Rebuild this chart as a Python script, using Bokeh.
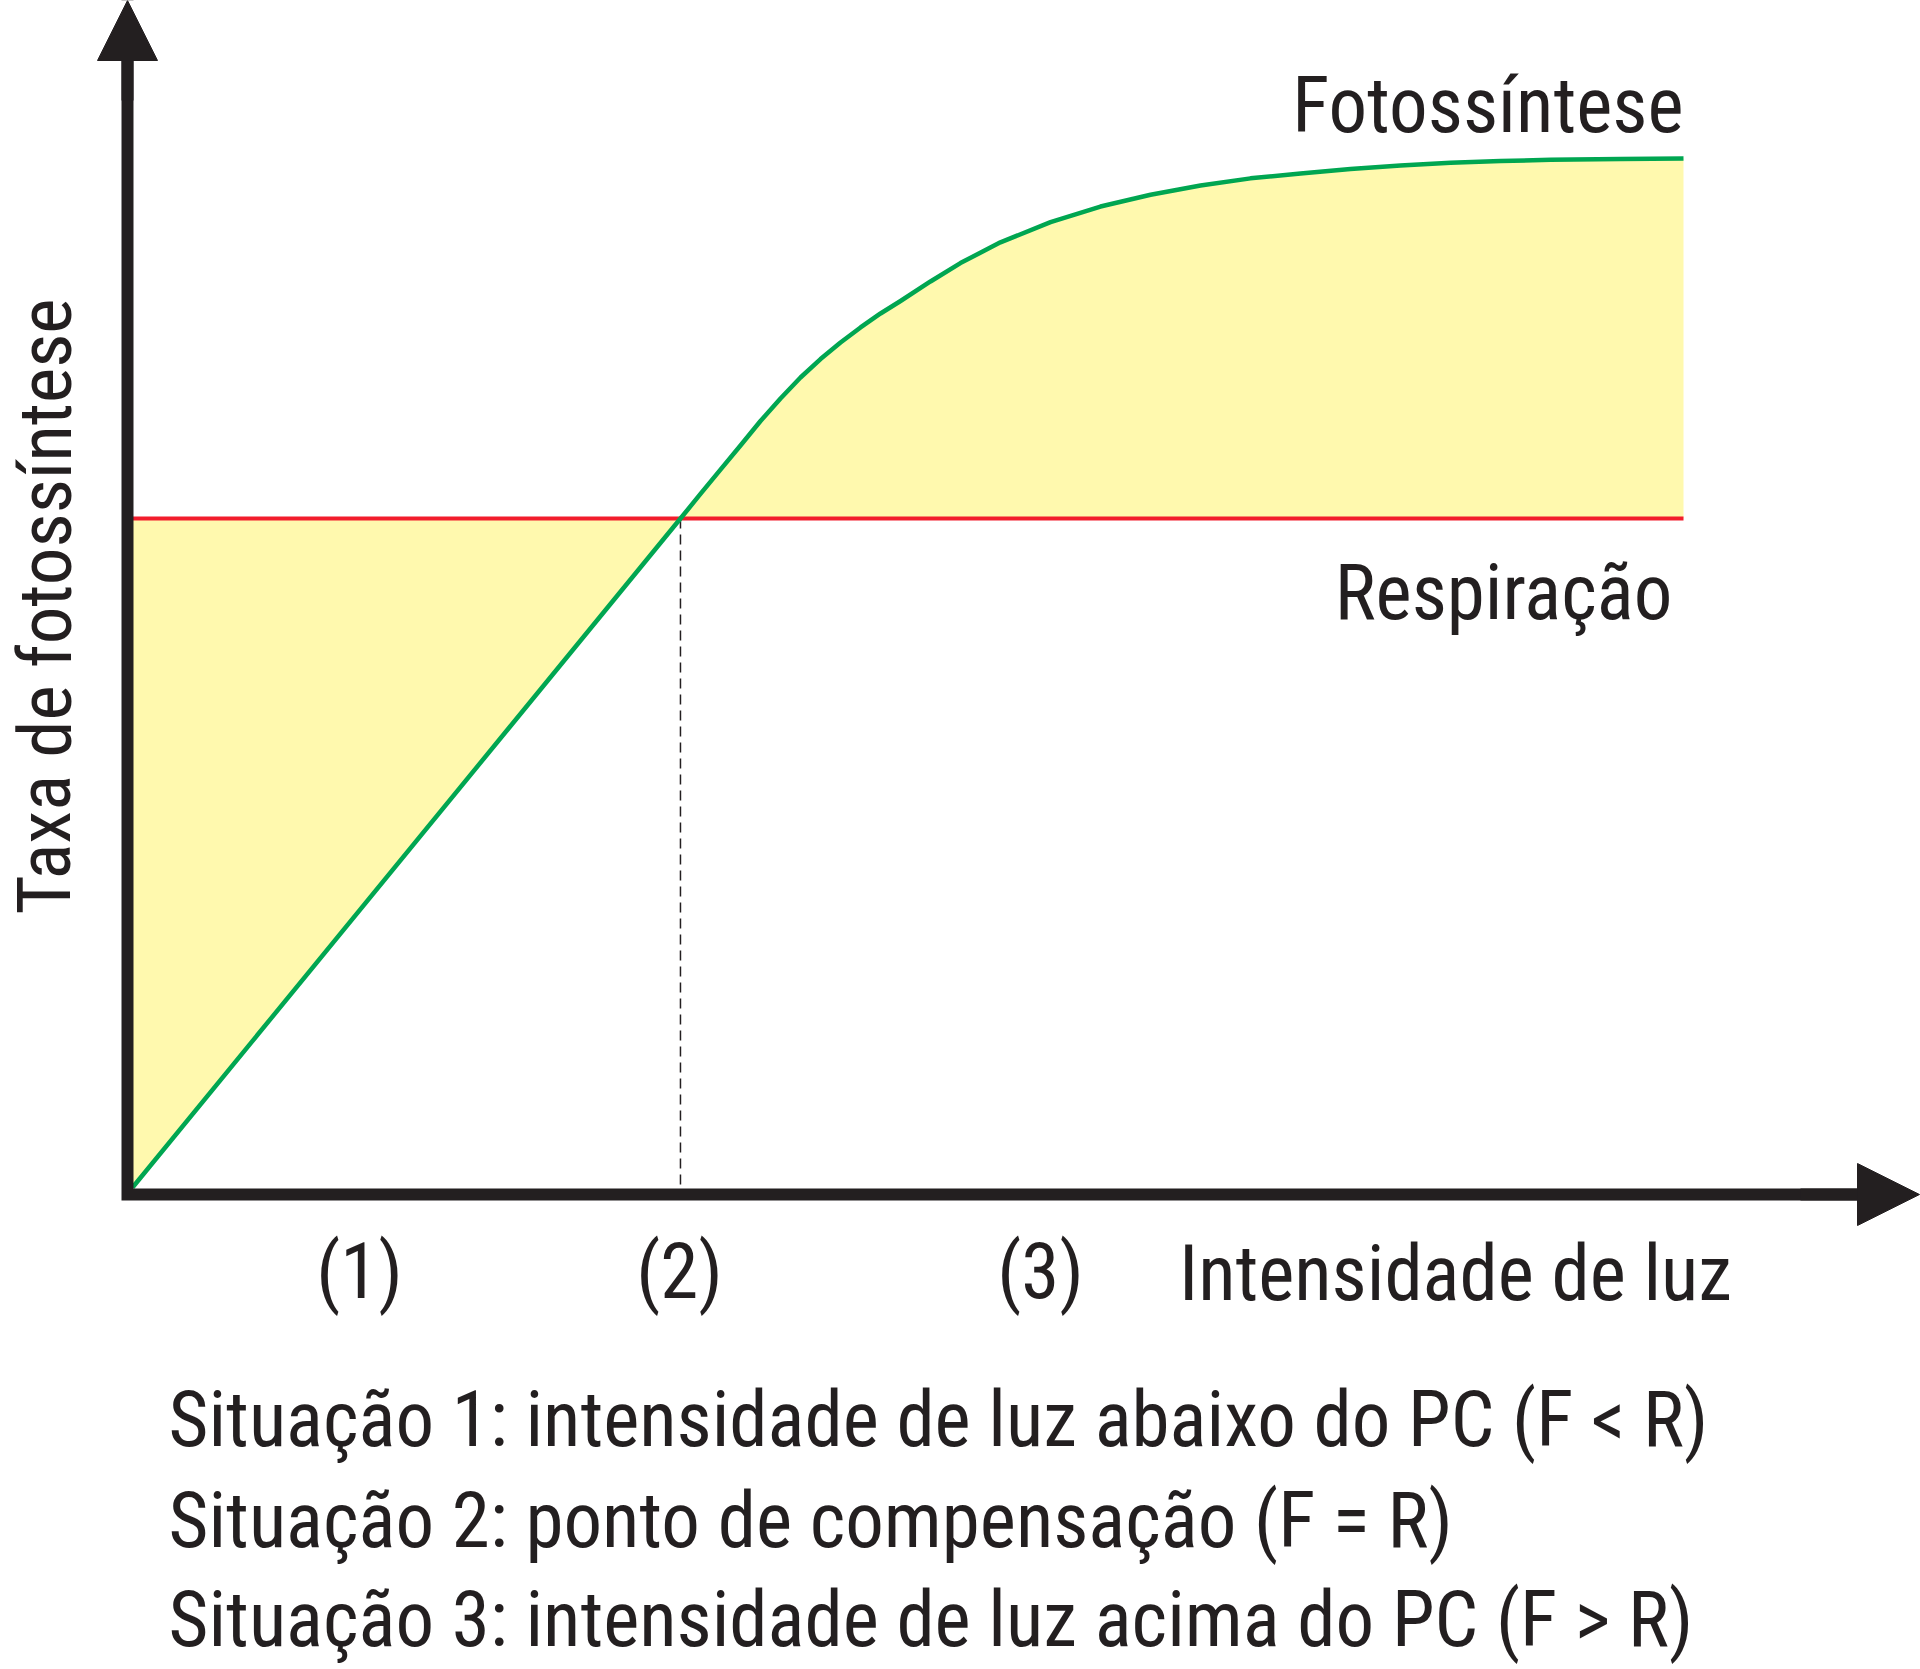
from bokeh.plotting import figure
from bokeh.models import Range1d, Arrow, NormalHead
from bokeh.embed import file_html
from bokeh.resources import INLINE
from bokeh.core.properties import value

# ---- data (chart units: light 0..100, rate 0..100) ----
light = [0.0, 35.33, 36.62, 37.91, 39.20, 40.49, 41.78, 43.07, 44.36, 45.65,
         46.94, 48.23, 49.52, 51.45, 53.38, 55.96, 59.19, 62.41, 65.64, 68.86,
         72.08, 75.31, 78.53, 81.75, 84.98, 88.20, 91.43, 95.94, 100.0]
photosynthesis = [0.0, 65.01, 67.40, 69.76, 72.11, 74.49, 76.68, 78.72, 80.51, 82.12,
                  83.58, 84.94, 86.15, 88.05, 89.84, 91.85, 93.81, 95.33, 96.48, 97.38,
                  98.07, 98.54, 98.98, 99.32, 99.58, 99.76, 99.87, 99.96, 100.0]
respiration_rate = 65.01
compensation_point = 35.33

curve_labels = ["Fotossíntese", "Respiração"]
region_labels = ["(1)", "(2)", "(3)"]
x_title = "Intensidade de luz"
y_title = "Taxa de fotossíntese"
situations = [
    "Situação 1: intensidade de luz abaixo do PC (F < R)",
    "Situação 2: ponto de compensação (F = R)",
    "Situação 3: intensidade de luz acima do PC (F > R)",
]

# ---- layout helpers: reference pixel -> chart units ----
PX_X = 15.51
PX_Y = 10.29
X0 = 132
Y0 = 1187

def sx(px):
    return (px - X0) / PX_X

def sy(py):
    return (Y0 - py) / PX_Y

W, H = 1920, 1669
p = figure(width=W, height=H, output_backend="svg", toolbar_location=None,
           x_axis_type=None, y_axis_type=None, min_border=0,
           x_range=Range1d(sx(0), sx(W)), y_range=Range1d(sy(H), sy(0)))
p.grid.visible = False
p.outline_line_color = None
p.background_fill_color = "white"
p.border_fill_color = "white"

INK = "#231F20"
GREEN = "#00A651"
RED = "#F21D2C"
YELLOW = "#FFF9AE"
FONT = value("Roboto Condensed, Roboto, sans-serif")

# yellow area between curves
p.varea(x=light, y1=photosynthesis, y2=[respiration_rate] * len(light), fill_color=YELLOW)

# respiration line
p.line(x=[light[0], light[-1]], y=[respiration_rate, respiration_rate], line_color=RED, line_width=4)
# dashed compensation line
p.segment(x0=[compensation_point], y0=[respiration_rate], x1=[compensation_point], y1=[0],
          line_color=INK, line_width=1.5, line_dash="10 6")
# photosynthesis curve
p.line(x=light, y=photosynthesis, line_color=GREEN, line_width=4.5, line_join="round")

# axes
ax_x = sx(127)
ax_y = sy(1194)
p.line(x=[ax_x, ax_x, sx(1870)], y=[sy(50), ax_y, ax_y], line_color=INK, line_width=12, line_join="miter")
p.add_layout(Arrow(x_start=ax_x, y_start=sy(100), x_end=ax_x, y_end=sy(0),
                   line_color=INK, line_width=12,
                   end=NormalHead(size=60, fill_color=INK, line_color=INK)))
p.add_layout(Arrow(x_start=sx(1800), y_start=ax_y, x_end=sx(1919), y_end=ax_y,
                   line_color=INK, line_width=12,
                   end=NormalHead(size=62, fill_color=INK, line_color=INK)))

FS = "77px"
common = dict(text_font=FONT, text_font_size=FS, text_baseline="alphabetic", text_color=INK)
# curve labels
p.text(x=[sx(1683)], y=[sy(105)], text=[curve_labels[0]], text_align="right", **common)
p.text(x=[sx(1503)], y=[sy(592)], text=[curve_labels[1]], text_align="center", **common)
# region labels
p.text(x=[sx(359), sx(679), sx(1040)], y=[sy(1271)] * 3, text=region_labels,
       text_align="center", **common)
# axis titles
p.text(x=[sx(1455)], y=[sy(1273)], text=[x_title], text_align="center", **common)
p.text(x=[sx(44)], y=[sy(606)], text=[y_title], angle=1.5707963, text_font=FONT,
       text_font_size="75px", text_align="center", text_baseline="alphabetic", text_color=INK)
# situations
p.text(x=[sx(168)] * 3, y=[sy(1419), sy(1520), sy(1619)], text=situations,
       text_align="left", **common)

open("out.html", "w").write(file_html(p, INLINE))
